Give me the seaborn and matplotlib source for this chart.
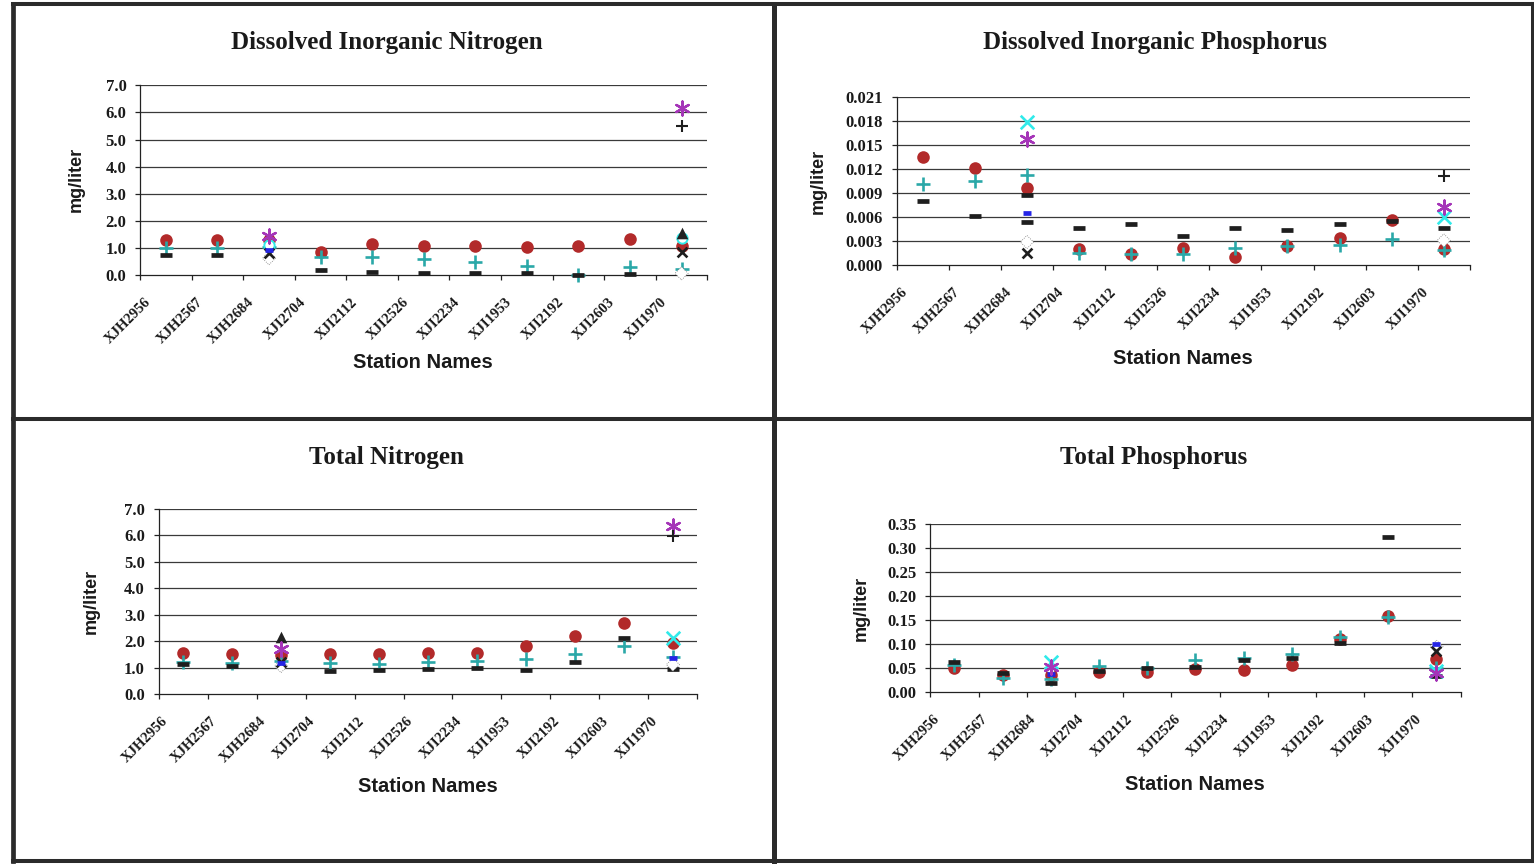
import numpy as np
import matplotlib
matplotlib.use('Agg')
import matplotlib.pyplot as plt
import seaborn as sns
from matplotlib.lines import Line2D
from matplotlib.transforms import ScaledTranslation

# ---------------- data ----------------
stations = ['XJH2956', 'XJH2567', 'XJH2684', 'XJI2704', 'XJI2112', 'XJI2526',
            'XJI2234', 'XJI1953', 'XJI2192', 'XJI2603', 'XJI1970']
extra_stations = ['XJH2684', 'XJI1970']
nan = np.nan

titles = ['Dissolved Inorganic Nitrogen', 'Dissolved Inorganic Phosphorus',
          'Total Nitrogen', 'Total Phosphorus']

din_yticks = [0.0, 1.0, 2.0, 3.0, 4.0, 5.0, 6.0, 7.0]
dip_yticks = [0.000, 0.003, 0.006, 0.009, 0.012, 0.015, 0.018, 0.021]
tn_yticks = [0.0, 1.0, 2.0, 3.0, 4.0, 5.0, 6.0, 7.0]
tp_yticks = [0.00, 0.05, 0.10, 0.15, 0.20, 0.25, 0.30, 0.35]

# Dissolved Inorganic Nitrogen
din_circle = [1.30, 1.30, 1.28, 0.86, 1.13, 1.07, 1.06, 1.02, 1.07, 1.34, 1.07]
din_plus = [0.98, 0.98, 1.05, 0.68, 0.68, 0.60, 0.47, 0.33, 0.00, 0.31, 0.22]
din_dash = [0.73, 0.73, nan, 0.18, 0.12, 0.09, 0.08, 0.09, 0.00, 0.03, nan]
din_dash2 = [nan, nan]
din_triangle = [nan, 1.54]
din_star = [1.45, 6.15]
din_bplus = [nan, 5.51]
din_bluedash = [0.92, nan]
din_cyanx = [nan, nan]
din_blackx = [0.80, 0.86]
din_white = [0.62, 0.06]
din_ring = [1.10, 1.35]

# Dissolved Inorganic Phosphorus
dip_circle = [0.0135, 0.0121, 0.0096, 0.0020, 0.00137, 0.0021, 0.00107, 0.00245, 0.00336, 0.00564, 0.0020]
dip_plus = [0.0101, 0.0105, 0.0112, 0.0015, 0.00146, 0.00146, 0.0021, 0.00245, 0.00253, 0.0033, 0.0019]
dip_dash = [0.00805, 0.00614, 0.00543, 0.00469, 0.0051, 0.00365, 0.0046, 0.0044, 0.0051, 0.00556, 0.0046]
dip_dash2 = [0.0088, nan]
dip_triangle = [nan, nan]
dip_star = [0.0157, 0.0072]
dip_bplus = [nan, 0.0111]
dip_bluedash = [0.0065, nan]
dip_cyanx = [0.0178, 0.0060]
dip_blackx = [0.0015, nan]
dip_white = [0.0029, 0.0031]
dip_ring = [nan, nan]

# Total Nitrogen
tn_circle = [1.55, 1.51, 1.48, 1.51, 1.51, 1.56, 1.55, 1.81, 2.21, 2.69, 1.94]
tn_plus = [1.21, 1.17, 1.25, 1.19, 1.14, 1.22, 1.27, 1.32, 1.52, 1.84, 1.42]
tn_dash = [1.15, 1.07, nan, 0.88, 0.93, 0.97, 0.99, 0.91, 1.21, 2.13, 0.94]
tn_dash2 = [nan, nan]
tn_triangle = [2.18, nan]
tn_star = [1.70, 6.36]
tn_bplus = [nan, 5.99]
tn_bluedash = [1.17, 1.38]
tn_cyanx = [nan, 2.11]
tn_blackx = [1.23, nan]
tn_white = [1.07, 1.12]
tn_ring = [nan, nan]

# Total Phosphorus
tp_circle = [0.051, 0.036, 0.036, 0.043, 0.042, 0.0485, 0.0465, 0.057, 0.111, 0.160, 0.069]
tp_plus = [0.057, 0.030, 0.028, 0.055, 0.050, 0.067, 0.071, 0.079, 0.116, 0.1575, 0.050]
tp_dash = [0.064, 0.040, 0.020, 0.045, 0.0515, 0.053, 0.067, 0.072, 0.103, 0.323, 0.035]
tp_dash2 = [nan, nan]
tp_triangle = [nan, nan]
tp_star = [0.053, 0.040]
tp_bplus = [nan, nan]
tp_bluedash = [0.0375, 0.100]
tp_cyanx = [0.064, 0.045]
tp_blackx = [nan, 0.086]
tp_white = [0.050, 0.095]
tp_ring = [nan, nan]

# ---------------- styles ----------------
sns.set_theme(style='white')
plt.rcParams['font.family'] = ['DejaVu Sans']

RED = '#B22A2A'
TEAL = '#2AA8A8'
DARK = '#1E1E1E'
PURPLE = '#A535B8'
CYAN = '#30EAEA'
BLUE = '#2424E6'

main_styles = {
    'circle': dict(marker='o', color=RED, s=82, linewidth=0),
    'plus': dict(marker='+', color=TEAL, s=95, linewidth=1.9),
    'dash': dict(marker='_', color=DARK, s=80, linewidth=3.4),
}
extra_styles = {
    'white': dict(marker='D', color='white', edgecolor='#777777', s=45, linewidth=0.6, linestyle=':'),
    'ring': dict(marker='o', color='white', edgecolor=CYAN, s=55, linewidth=1.4),
    'dash2': dict(marker='_', color=DARK, s=80, linewidth=3.4),
    'blackx': dict(marker='x', color=DARK, s=50, linewidth=1.9),
    'bluedash': dict(marker='_', color=BLUE, s=40, linewidth=3.4),
    'triangle': dict(marker='^', color='#222222', s=70, linewidth=0),
    'cyanx': dict(marker='x', color=CYAN, s=95, linewidth=1.9),
    'star': dict(marker=(6, 2, 0), color=PURPLE, s=100, linewidth=1.7),
    'bplus': dict(marker='+', color=DARK, s=65, linewidth=1.5),
}

panels = [
    dict(title=titles[0], yticks=din_yticks, fmt='{:.1f}',
         main={'circle': din_circle, 'plus': din_plus, 'dash': din_dash},
         extra={'white': din_white, 'ring': din_ring, 'dash2': din_dash2, 'blackx': din_blackx,
                'bluedash': din_bluedash, 'triangle': din_triangle, 'cyanx': din_cyanx,
                'star': din_star, 'bplus': din_bplus},
         box=(140, 85.3, 707.3, 275), title_xy=(387, 42), xlabel_xy=(423, 363), ylabel_xy=(76, 179)),
    dict(title=titles[1], yticks=dip_yticks, fmt='{:.3f}',
         main={'circle': dip_circle, 'plus': dip_plus, 'dash': dip_dash},
         extra={'white': dip_white, 'ring': dip_ring, 'dash2': dip_dash2, 'blackx': dip_blackx,
                'bluedash': dip_bluedash, 'triangle': dip_triangle, 'cyanx': dip_cyanx,
                'star': dip_star, 'bplus': dip_bplus},
         box=(896.7, 96.7, 1469.8, 265.3), title_xy=(1155, 42), xlabel_xy=(1183, 358), ylabel_xy=(818.7, 181.7)),
    dict(title=titles[2], yticks=tn_yticks, fmt='{:.1f}',
         main={'circle': tn_circle, 'plus': tn_plus, 'dash': tn_dash},
         extra={'white': tn_white, 'ring': tn_ring, 'dash2': tn_dash2, 'blackx': tn_blackx,
                'bluedash': tn_bluedash, 'triangle': tn_triangle, 'cyanx': tn_cyanx,
                'star': tn_star, 'bplus': tn_bplus},
         box=(158.6, 509, 697.4, 694.3), title_xy=(386, 457.7), xlabel_xy=(428, 786.7), ylabel_xy=(90.9, 601.7)),
    dict(title=titles[3], yticks=tp_yticks, fmt='{:.2f}',
         main={'circle': tp_circle, 'plus': tp_plus, 'dash': tp_dash},
         extra={'white': tp_white, 'ring': tp_ring, 'dash2': tp_dash2, 'blackx': tp_blackx,
                'bluedash': tp_bluedash, 'triangle': tp_triangle, 'cyanx': tp_cyanx,
                'star': tp_star, 'bplus': tp_bplus},
         box=(930.3, 524.3, 1460.5, 692.3), title_xy=(1154, 458), xlabel_xy=(1194.5, 784), ylabel_xy=(861, 608)),
]

W, H = 1534, 867
fig = plt.figure(figsize=(W / 100, H / 100), dpi=100)
fig.patch.set_facecolor('white')

xpos = np.arange(len(stations))
xpos_extra = np.array([stations.index(s) for s in extra_stations])
serif = 'Liberation Serif'
sans = 'Liberation Sans'

for p in panels:
    l, t, r, b = p['box']
    ax = fig.add_axes([l / W, 1 - b / H, (r - l) / W, (b - t) / H])
    ax.set_facecolor('white')
    yt = p['yticks']
    for v in yt[1:]:
        ax.axhline(v, color='#3a3a3a', lw=0.9, zorder=0)
    z = 3
    for key, vals in p['main'].items():
        st = dict(main_styles[key])
        sns.scatterplot(x=xpos, y=np.array(vals, dtype=float), ax=ax, legend=False,
                        clip_on=False, zorder=z, **st)
        z += 1
    for key, vals in p['extra'].items():
        st = dict(extra_styles[key])
        sns.scatterplot(x=xpos_extra, y=np.array(vals, dtype=float), ax=ax, legend=False,
                        clip_on=False, zorder=z, **st)
        z += 1

    ax.set_xlim(-0.5, len(stations) - 0.5)
    ax.set_ylim(yt[0], yt[-1])
    ax.set_yticks(yt)
    ax.set_yticklabels([p['fmt'].format(v) for v in yt])
    ax.set_xticks(xpos)
    ax.set_xticklabels(stations)
    ax.set_xticks(np.arange(len(stations) + 1) - 0.5, minor=True)
    ax.set_xlabel('')
    ax.set_ylabel('')
    ax.tick_params(axis='x', which='major', length=0, pad=18)
    ax.tick_params(axis='x', which='minor', length=3.6, width=0.9, direction='out', color='#222222', bottom=True)
    ax.tick_params(axis='y', length=3.3, width=0.9, direction='out', color='#222222', pad=6.5, left=True)
    for sp in ['top', 'right']:
        ax.spines[sp].set_visible(False)
    for sp in ['left', 'bottom']:
        ax.spines[sp].set_color('#222222')
        ax.spines[sp].set_linewidth(0.9)
    for lab in ax.get_yticklabels():
        lab.set_fontfamily(serif)
        lab.set_fontweight('bold')
        lab.set_fontsize(12)
        lab.set_color('#1a1a1a')
    off = ScaledTranslation(-17 / 100, 0, fig.dpi_scale_trans)
    for lab in ax.get_xticklabels():
        lab.set_fontfamily(serif)
        lab.set_fontweight('bold')
        lab.set_fontsize(10.5)
        lab.set_color('#1a1a1a')
        lab.set_rotation(45)
        lab.set_ha('right')
        lab.set_va('center')
        lab.set_rotation_mode('anchor')
        lab.set_transform(lab.get_transform() + off)

    tx, ty = p['title_xy']
    fig.text(tx / W, 1 - ty / H, p['title'], ha='center', va='center', fontfamily=serif,
             fontweight='bold', fontsize=18, color='#1a1a1a')
    lx, ly = p['xlabel_xy']
    fig.text(lx / W, 1 - ly / H, 'Station Names', ha='center', va='center', fontfamily=sans,
             fontweight='bold', fontsize=14.5, color='#1a1a1a')
    yx, yy = p['ylabel_xy']
    fig.text(yx / W, 1 - yy / H, 'mg/liter', ha='center', va='center', rotation=90, fontfamily=sans,
             fontweight='bold', fontsize=13, color='#1a1a1a')

# panel borders
BC = '#2b2b2b'
def hline(y, x0, x1, lw):
    fig.add_artist(Line2D([x0 / W, x1 / W], [1 - y / H, 1 - y / H], transform=fig.transFigure,
                          color=BC, lw=lw, solid_capstyle='projecting'))
def vline(x, y0, y1, lw):
    fig.add_artist(Line2D([x / W, x / W], [1 - y0 / H, 1 - y1 / H], transform=fig.transFigure,
                          color=BC, lw=lw, solid_capstyle='projecting'))

hline(4.3, 12.5, 1532.5, 2.9)
hline(418.7, 12.5, 1532.5, 2.9)
hline(860.8, 12.5, 1532.5, 2.9)
vline(12.5, 4.3, 860.8, 3.4)
vline(773.5, 4.3, 860.8, 3.6)
vline(1532.5, 4.3, 860.8, 2.9)

fig.savefig('out.png', dpi=100, facecolor='white')
